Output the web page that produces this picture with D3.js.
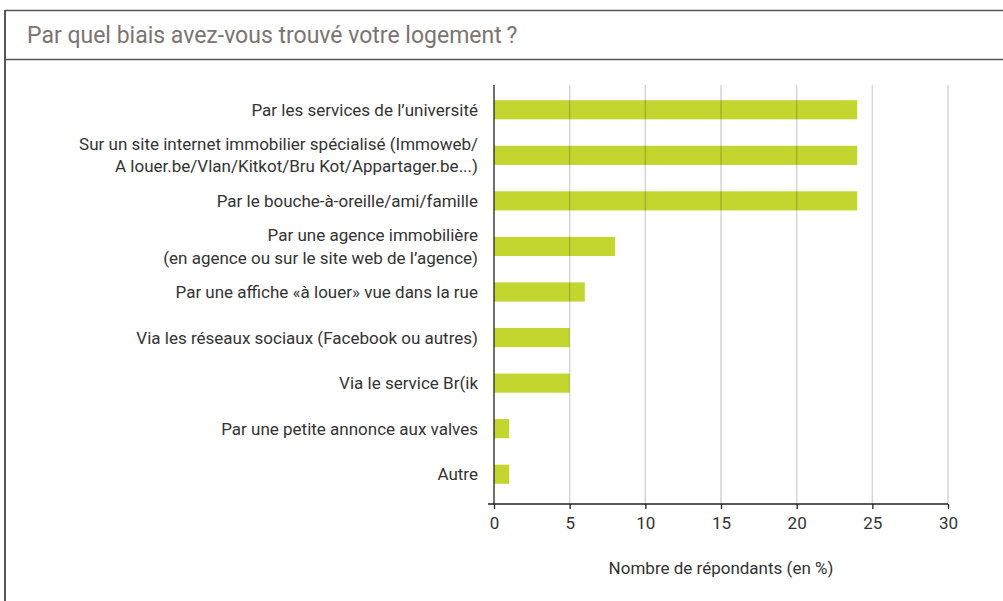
<!DOCTYPE html>
<html>
<head>
<meta charset="utf-8">
<script src="https://cdn.jsdelivr.net/npm/d3@7"></script>
<style>
  body { margin: 0; background: #fff; }
  svg { display: block; }
</style>
</head>
<body>
<script>
var title = "Par quel biais avez-vous trouvé votre logement\u2009?";
var categories = [
    ["Par les services de l’université"],
    ["Sur un site internet immobilier spécialisé (Immoweb/", "A louer.be/Vlan/Kitkot/Bru Kot/Appartager.be...)"],
    ["Par le bouche-à-oreille/ami/famille"],
    ["Par une agence immobilière", "(en agence ou sur le site web de l’agence)"],
    ["Par une affiche «à louer» vue dans la rue"],
    ["Via les réseaux sociaux (Facebook ou autres)"],
    ["Via le service Br(ik"],
    ["Par une petite annonce aux valves"],
    ["Autre"]
];
var values = [24, 24, 24, 8, 6, 5, 5, 1, 1];
var xTicks = [0, 5, 10, 15, 20, 25, 30];
var xLabel = "Nombre de répondants (en %)";

var width = 1003, height = 601;
var margin = {top: 85, right: 55, bottom: 97, left: 494};
var innerWidth = width - margin.left - margin.right,
    innerHeight = height - margin.top - margin.bottom;

var svg = d3.select("body").append("svg")
    .attr("width", width)
    .attr("height", height)
    .attr("viewBox", "0 0 " + width + " " + height)
    .style("font-family", "Roboto, 'Noto Sans', sans-serif");

// frame
svg.append("line").attr("x1", 5).attr("x2", width).attr("y1", 10.5).attr("y2", 10.5)
    .attr("stroke", "#555").attr("stroke-width", 1.6);
svg.append("line").attr("x1", 5).attr("x2", width).attr("y1", 59.5).attr("y2", 59.5)
    .attr("stroke", "#555").attr("stroke-width", 1.6);
svg.append("line").attr("x1", 5).attr("x2", 5).attr("y1", 10).attr("y2", height)
    .attr("stroke", "#555").attr("stroke-width", 2);

svg.append("text")
    .attr("x", 27).attr("y", 43)
    .attr("fill", "#7d7370")
    .attr("font-size", 23)
    .text(title);

var g = svg.append("g")
    .attr("transform", "translate(" + margin.left + "," + margin.top + ")");

var xScale = d3.scaleLinear().domain([0, 30]).range([0, innerWidth]);
var yScale = d3.scaleBand()
    .domain(d3.range(categories.length))
    .range([2, 412])
    .paddingInner(0.58)
    .paddingOuter(0.29);

// bars
g.selectAll(".bar")
    .data(values)
    .enter().append("rect")
    .attr("class", "bar")
    .attr("x", 0)
    .attr("y", function(d, i) { return yScale(i); })
    .attr("width", function(d) { return xScale(d); })
    .attr("height", yScale.bandwidth())
    .attr("fill", "#c2d62f");

// grid on top
g.selectAll(".grid")
    .data(xTicks.slice(1))
    .enter().append("line")
    .attr("class", "grid")
    .attr("x1", function(d) { return xScale(d); })
    .attr("x2", function(d) { return xScale(d); })
    .attr("y1", 0)
    .attr("y2", innerHeight)
    .attr("stroke", "rgba(0,0,0,0.17)")
    .attr("stroke-width", 1.5);

// x axis
var xAxis = g.append("g")
    .attr("transform", "translate(0," + innerHeight + ")")
    .call(d3.axisBottom(xScale).tickValues(xTicks).tickSize(5).tickSizeOuter(0).tickPadding(8));
xAxis.attr("font-family", null).attr("font-size", 17);
xAxis.select(".domain").remove();
xAxis.append("line").attr("x1", -6).attr("x2", innerWidth).attr("stroke", "#222").attr("stroke-width", 1.3);
xAxis.selectAll(".tick line").attr("stroke", "#222").attr("stroke-width", 1.3);
xAxis.selectAll(".tick text").attr("fill", "#333");

// y axis line
g.append("line")
    .attr("x1", 0).attr("x2", 0)
    .attr("y1", 0).attr("y2", innerHeight)
    .attr("stroke", "#222").attr("stroke-width", 1.3);

// category labels, one text per line
var labels = g.selectAll(".cat")
    .data(categories)
    .enter().append("g")
    .attr("class", "cat")
    .attr("transform", function(d, i) {
        return "translate(-16," + (yScale(i) + yScale.bandwidth() / 2) + ")";
    });
labels.selectAll("text")
    .data(function(d) { return d; })
    .enter().append("text")
    .attr("text-anchor", "end")
    .attr("fill", "#333")
    .attr("font-size", 17)
    .attr("x", 0)
    .attr("y", function(d, j, nodes) {
        return (j - (nodes.length - 1) / 2) * 22.4;
    })
    .attr("dy", "0.35em")
    .text(function(d) { return d; });

g.append("text")
    .attr("x", xScale(15))
    .attr("y", innerHeight + 70)
    .attr("text-anchor", "middle")
    .attr("fill", "#333")
    .attr("font-size", 17)
    .text(xLabel);
</script>
</body>
</html>
